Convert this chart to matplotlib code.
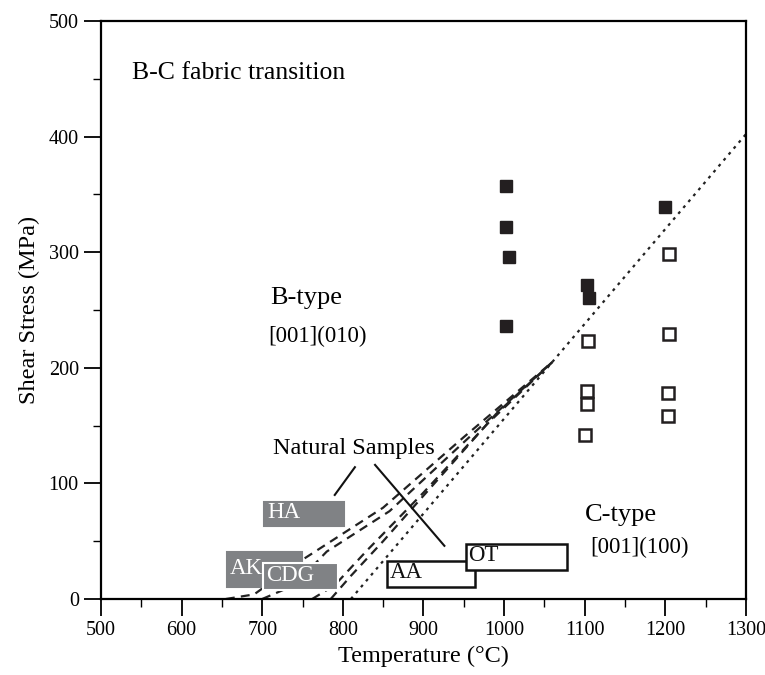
import numpy as np
import matplotlib.pyplot as plt
from matplotlib.patches import Rectangle
from matplotlib.ticker import MultipleLocator

plt.rcParams['font.family'] = ['Liberation Serif', 'DejaVu Serif']

# experimental data (temperature in C, shear stress in MPa)
b_temp = [1003, 1003, 1006, 1003, 1103, 1105, 1200]
b_stress = [357, 322, 296, 236, 272, 260, 339]
c_temp = [1104, 1103, 1103, 1101, 1205, 1205, 1203, 1204]
c_stress = [223, 180, 169, 142, 298, 229, 178, 158]

# fabric boundary curves (dashed) and straight boundary (dotted)
curve_T = [
    [655, 690, 750, 850, 950, 1060],
    [700, 740, 780, 858, 960, 1060],
    [762, 790, 830, 900, 980, 1060],
    [785, 810, 850, 920, 990, 1060],
]
curve_S = [
    [0, 4, 34, 79, 140, 205],
    [0, 12, 41, 76, 142, 205],
    [0, 12, 42, 92, 152, 205],
    [0, 20, 50, 105, 160, 205],
]
dot_T = [810, 1300]
dot_S = [0, 402]

# natural samples: name, T range, stress range, filled
sample_names = ['HA', 'AK', 'CDG', 'AA', 'OT']
sample_T = [(702, 801), (656, 749), (701, 794), (855, 964), (953, 1078)]
sample_S = [(63, 84), (10, 41), (8, 31), (10, 33), (25, 48)]
sample_gray = [True, True, True, False, False]

fig = plt.figure(figsize=(7.65, 6.75), dpi=100)
ax = fig.add_axes([0.132, 0.1126, 0.843, 0.8564])

for T, S in zip(curve_T, curve_S):
    ax.plot(T, S, color='#222222', lw=1.6, ls=(0, (4, 2.8)), zorder=2)
ax.plot(dot_T, dot_S, color='#222222', lw=1.6, ls=(0, (1.3, 2.2)), zorder=2)

for name, (t0, t1), (s0, s1), gray in zip(sample_names, sample_T, sample_S, sample_gray):
    if gray:
        ec = 'white' if name == 'CDG' else '#808285'
        ax.add_patch(Rectangle((t0, s0), t1 - t0, s1 - s0, facecolor='#808285',
                               edgecolor=ec, lw=1.5, zorder=3))
        ax.text(t0 + 4, (s0 + s1) / 2 + 1, name, color='white', fontsize=16.5,
                va='center', ha='left', zorder=4)
    else:
        ax.add_patch(Rectangle((t0, s0), t1 - t0, s1 - s0, facecolor='white',
                               edgecolor='#111111', lw=1.8, zorder=3))
        ax.text(t0 + 3, (s0 + s1) / 2 + 1, name, color='#111111', fontsize=16.5,
                va='center', ha='left', zorder=4)

ax.plot(b_temp, b_stress, 's', ms=8.5, color='#231f20', mec='#231f20', ls='none', zorder=5)
ax.plot(c_temp, c_stress, 's', ms=8.5, mfc='white', mec='#231f20', mew=1.8, ls='none', zorder=5)

# labels
ax.text(538, 455, 'B-C fabric transition', fontsize=18.5, va='center')
ax.text(710, 260, 'B-type', fontsize=19, va='center')
ax.text(707, 227, '[001](010)', fontsize=16.5, va='center')
ax.text(1100, 73, 'C-type', fontsize=19, va='center')
ax.text(1107, 45, '[001](100)', fontsize=16.5, va='center')
ax.text(814, 130, 'Natural Samples', fontsize=17.5, va='center', ha='center')
ax.plot([815, 790], [114, 90], color='#111111', lw=1.5)
ax.plot([840, 926], [116, 46], color='#111111', lw=1.5)

ax.set_xlim(500, 1300)
ax.set_ylim(0, 500)
ax.xaxis.set_major_locator(MultipleLocator(100))
ax.xaxis.set_minor_locator(MultipleLocator(50))
ax.yaxis.set_major_locator(MultipleLocator(100))
ax.yaxis.set_minor_locator(MultipleLocator(50))
ax.tick_params(which='major', direction='out', length=12, width=1.3, labelsize=14.5, pad=4)
ax.tick_params(which='minor', direction='out', length=6, width=1.0)
for sp in ax.spines.values():
    sp.set_linewidth(1.6)

ax.set_xlabel('Temperature (\u00b0C)', fontsize=17.5, labelpad=4)
ax.set_ylabel('Shear Stress (MPa)', fontsize=17.5, labelpad=6)

fig.savefig('out.png', dpi=100)
